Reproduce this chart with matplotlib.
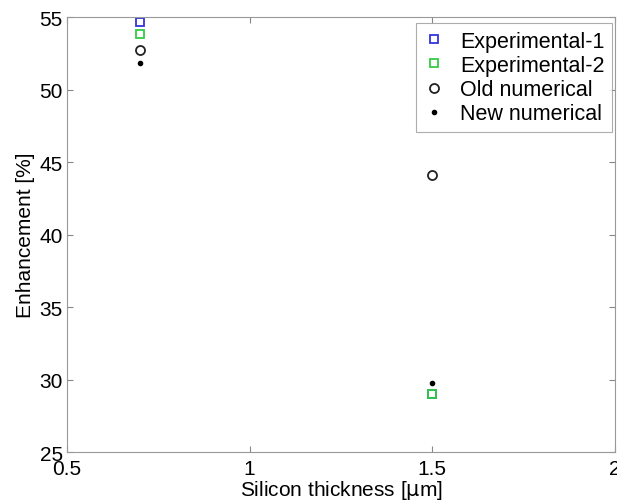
import matplotlib as mpl
import matplotlib.pyplot as plt
import numpy as np

thickness = [0.7, 1.5]
exp1 = [54.65, 29.0]
exp2 = [53.8, 29.0]
old_num = [52.7, 44.1]
new_num = [51.85, 29.75]

mpl.rcParams["font.family"] = ["Liberation Sans", "DejaVu Sans"]
mpl.rcParams["font.size"] = 15

fig = plt.figure(figsize=(6.17, 5.02), dpi=100)
ax = fig.add_axes([0.1086, 0.0976, 0.888, 0.8665])

ax.plot(thickness, exp1, linestyle="none", marker="s", markersize=6,
        markerfacecolor="none", markeredgecolor="#3333dd", markeredgewidth=1.3,
        label="Experimental-1")
ax.plot(thickness, exp2, linestyle="none", marker="s", markersize=6,
        markerfacecolor="none", markeredgecolor="#33cc44", markeredgewidth=1.3,
        label="Experimental-2")
ax.plot(thickness, old_num, linestyle="none", marker="o", markersize=6.5,
        markerfacecolor="none", markeredgecolor="#222222", markeredgewidth=1.3,
        label="Old numerical")
ax.plot(thickness, new_num, linestyle="none", marker=".", markersize=6,
        color="black", label="New numerical")

ax.set_xlim(0.5, 2)
ax.set_ylim(25, 55)
ax.set_xticks([0.5, 1, 1.5, 2])
ax.set_xticklabels(["0.5", "1", "1.5", "2"])
ax.set_yticks([25, 30, 35, 40, 45, 50, 55])
ax.tick_params(direction="in", length=4, color="#888888", top=True, right=True, pad=3)
ax.tick_params(axis="x", pad=5)
for s in ax.spines.values():
    s.set_color("#999999")
ax.set_xlabel("Silicon thickness [$\\mathrm{\\mu}$m]", labelpad=0)
ax.set_ylabel("Enhancement [%]", labelpad=3)

leg = ax.legend(loc="upper right", bbox_to_anchor=(0.9945, 0.986), fontsize=15.5,
                fancybox=False, borderaxespad=0, handlelength=1.0,
                handletextpad=0.7, labelspacing=0.15, borderpad=0.35)
leg.get_frame().set_edgecolor("#999999")
leg.get_frame().set_linewidth(0.8)

fig.savefig("out.png", dpi=100)
